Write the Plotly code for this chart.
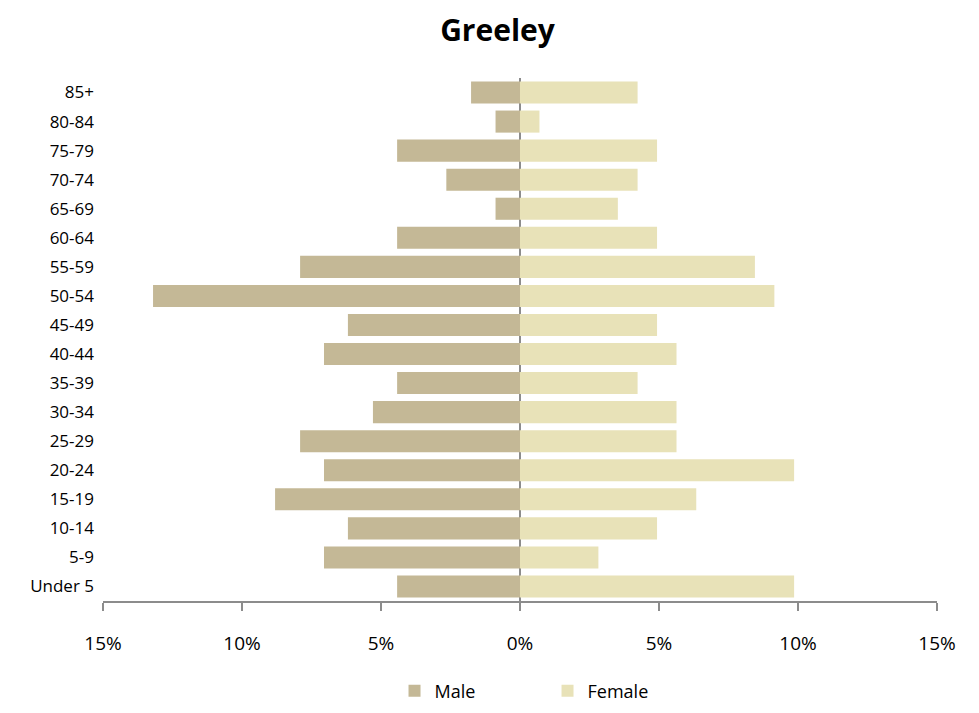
import plotly.graph_objects as go

age_groups = ["Under 5", "5-9", "10-14", "15-19", "20-24", "25-29", "30-34", "35-39",
              "40-44", "45-49", "50-54", "55-59", "60-64", "65-69", "70-74", "75-79",
              "80-84", "85+"]
male_pct = [4.42, 7.05, 6.19, 8.81, 7.05, 7.91, 5.29, 4.42, 7.05, 6.19, 13.2, 7.91,
            4.42, 0.88, 2.65, 4.42, 0.88, 1.76]
female_pct = [9.86, 2.82, 4.93, 6.34, 9.86, 5.63, 5.63, 4.23, 5.63, 4.93, 9.15, 8.45,
              4.93, 3.52, 4.23, 4.93, 0.70, 4.23]
tick_vals = [-15, -10, -5, 0, 5, 10, 15]
tick_text = ["15%", "10%", "5%", "0%", "5%", "10%", "15%"]

font_family = "Liberation Sans Narrow, Open Sans, sans-serif"

fig = go.Figure()
fig.add_trace(go.Bar(
    y=age_groups, x=[-v for v in male_pct], orientation="h", name="Male",
    marker=dict(color="#C4B896", line=dict(width=0)),
))
fig.add_trace(go.Bar(
    y=age_groups, x=female_pct, orientation="h", name="Female",
    marker=dict(color="#E8E2B8", line=dict(width=0)),
))

fig.update_layout(
    barmode="relative",
    bargap=0.24,
    width=979, height=713,
    margin=dict(l=95, r=50, t=70, b=120),
    paper_bgcolor="white", plot_bgcolor="white",
    title=dict(text="<b>Greeley</b>", x=0.5, xanchor="center", y=0.968, yanchor="middle",
               font=dict(family="Open Sans, sans-serif", size=30, color="black")),
    font=dict(family=font_family, size=17, color="black"),
    xaxis=dict(
        range=[-15, 15], tickvals=tick_vals, ticktext=tick_text,
        showgrid=False, zeroline=True, zerolinecolor="#8C8C8C", zerolinewidth=2,
        showline=True, linecolor="#8C8C8C", linewidth=2,
        ticks="outside", ticklen=8, tickcolor="#8C8C8C", tickwidth=2,
        ticklabelstandoff=16,
        tickfont=dict(size=19),
        fixedrange=True,
    ),
    yaxis=dict(
        showgrid=False, zeroline=False, showline=False, ticks="",
        ticklabelstandoff=8,
        tickfont=dict(size=17),
        categoryorder="array", categoryarray=age_groups,
        range=[-0.5, 17.5],
    ),
    legend=dict(
        orientation="h", x=0.533, xanchor="center", y=-0.172, yanchor="middle",
        font=dict(size=18), entrywidth=108, itemsizing="constant",
    ),
    showlegend=True,
)

fig.write_html("out.html")
